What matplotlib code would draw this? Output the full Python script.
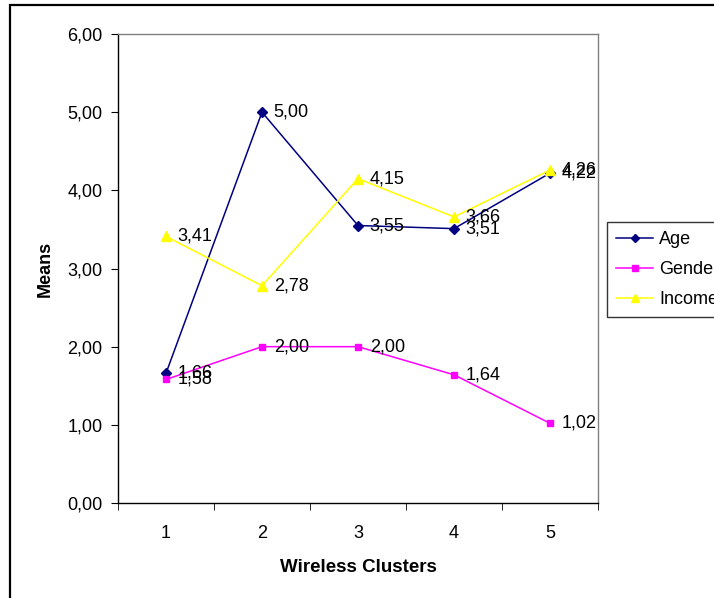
import matplotlib
matplotlib.use("Agg")
import matplotlib.pyplot as plt
from matplotlib.patches import Rectangle
from matplotlib.lines import Line2D

plt.rcParams['font.family'] = ['Liberation Sans', 'DejaVu Sans']

clusters = ["1", "2", "3", "4", "5"]
age = [1.66, 5.00, 3.55, 3.51, 4.22]
gender = [1.58, 2.00, 2.00, 1.64, 1.02]
income = [3.41, 2.78, 4.15, 3.66, 4.26]
yticks = [0, 1, 2, 3, 4, 5, 6]
ytick_labels = ["0,00", "1,00", "2,00", "3,00", "4,00", "5,00", "6,00"]

fig = plt.figure(figsize=(7.14, 5.98), dpi=100)
ax = fig.add_axes([118/714, 1-503/598, 480/714, 469/598])

x = list(range(1, len(clusters) + 1))
series = [
    ("Age", age, "#000080", "D", 5),
    ("Gender", gender, "#FF00FF", "s", 5),
    ("Income", income, "#FFFF00", "^", 7),
]
for name, vals, col, mk, ms in series:
    ax.plot(x, vals, color=col, marker=mk, markersize=ms, linewidth=1.1,
            markeredgecolor=col, markerfacecolor=col, label=name, zorder=3)
for name, vals, col, mk, ms in series:
    for xi, v in zip(x, vals):
        ax.annotate(f"{v:.2f}".replace(".", ","), (xi, v), xytext=(8.5, 0),
                    textcoords="offset points", va="center", ha="left",
                    fontsize=13, color="black", zorder=4)

ax.set_xlim(0.5, 5.5)
ax.set_ylim(0, 6)
ax.set_yticks(yticks)
ax.set_yticklabels(ytick_labels, fontsize=13)
ax.set_xticks(x)
ax.set_xticklabels(clusters, fontsize=13)
ax.set_xticks([i + 0.5 for i in range(0, 6)], minor=True)
ax.tick_params(axis="x", which="major", length=0, pad=16)
ax.tick_params(axis="x", which="minor", length=5, direction="out", color="black")
ax.tick_params(axis="y", which="major", length=5, direction="out", pad=6)

for s in ["top", "right"]:
    ax.spines[s].set_color("#808080")
    ax.spines[s].set_linewidth(1.0)
for s in ["left", "bottom"]:
    ax.spines[s].set_color("black")
    ax.spines[s].set_linewidth(1.0)

ax.set_xlabel("Wireless Clusters", fontsize=13.5, fontweight="bold", labelpad=12)
ax.set_ylabel("Means", fontsize=13, fontweight="bold", labelpad=10)

handles = [Line2D([0], [0], color=c, marker=m, markersize=ms * 0.9,
                  markerfacecolor=c, markeredgecolor=c, linewidth=1.1)
           for _, _, c, m, ms in series]
leg = fig.legend(handles, [s[0] for s in series], loc="upper left",
                 bbox_to_anchor=(607/714, 1-222/598), bbox_transform=fig.transFigure,
                 borderaxespad=0,
                 frameon=True, fancybox=False, edgecolor="black", fontsize=13,
                 handlelength=2.05, borderpad=0.5, labelspacing=0.72,
                 handletextpad=0.35)
leg.get_frame().set_linewidth(1.0)

fig.patches.append(Rectangle((10/714, -0.1), 1.2, 1 - 5/598 + 0.1,
                             transform=fig.transFigure, fill=False,
                             edgecolor="black", linewidth=1.6))

fig.savefig("out.png", dpi=100)
